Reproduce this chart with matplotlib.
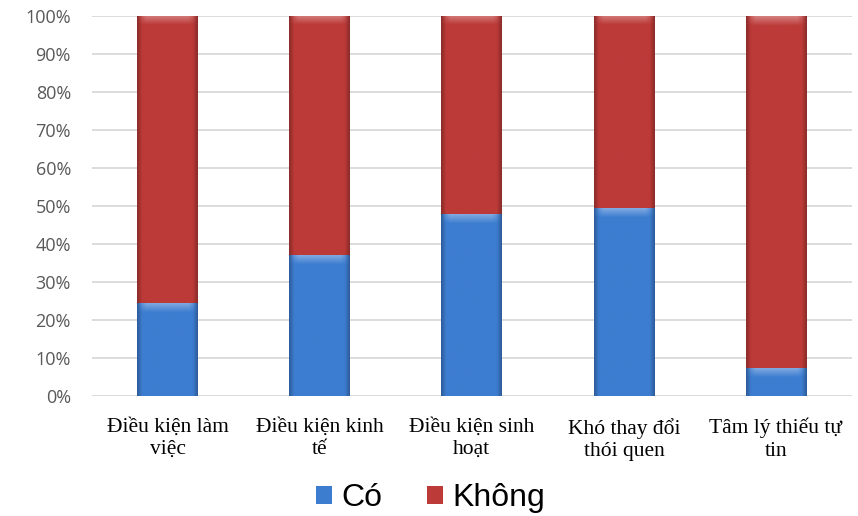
import numpy as np
import matplotlib.pyplot as plt
from matplotlib.colors import to_rgb
from matplotlib.ticker import PercentFormatter

categories = ["Điều kiện làm\nviệc", "Điều kiện kinh\ntế", "Điều kiện sinh\nhoạt",
              "Khó thay đổi\nthói quen", "Tâm lý thiếu tự\ntin"]
co = [24.3, 37.0, 47.8, 49.3, 7.3]
khong = [100 - v for v in co]

blue = "#3d7dd0"
red = "#bc3a38"


def bevel(ax, patch, color):
    # shaded fill: darker edges, light band along the top
    x0, y0 = patch.get_x(), patch.get_y()
    w, h = patch.get_width(), patch.get_height()
    if h <= 0:
        return
    nx, ny = 60, 300
    xs = np.linspace(0, 1, nx)
    side = np.minimum(xs, 1 - xs)
    shade = np.clip(side / 0.08, 0, 1) * 0.25 + 0.75
    hpx = h * 3.795
    yy = np.linspace(1, 0, ny) * hpx  # pixels below the top edge
    light = np.where(yy < 9, (1 - yy / 9) * 0.35, 0)
    base = np.array(to_rgb(color))
    img = np.empty((ny, nx, 3))
    for i in range(ny):
        row = base[None, :] * shade[:, None]
        row = row + (1 - row) * light[i] * np.clip(side / 0.15, 0, 1)[:, None]
        img[i] = row
    im = ax.imshow(img, extent=(x0, x0 + w, y0, y0 + h), origin="lower",
                   aspect="auto", zorder=3, interpolation="bilinear")
    im.set_clip_path(patch)


fig = plt.figure(figsize=(8.58, 5.16), dpi=100)
ax = fig.add_axes([0.107, 0.2335, 0.886, 0.7355])

x = np.arange(len(categories))
b1 = ax.bar(x, co, width=0.4, color=blue, label="Có", zorder=2)
b2 = ax.bar(x, khong, bottom=co, width=0.4, color=red, label="Không", zorder=2)
for p in b1:
    bevel(ax, p, blue)
for p in b2:
    bevel(ax, p, red)

ax.set_xlim(-0.5, len(categories) - 0.5)
ax.set_ylim(0, 100)
ax.set_yticks(np.arange(0, 101, 10))
ax.yaxis.set_major_formatter(PercentFormatter(decimals=0))
ax.grid(axis="y", color="#d9d9d9", linewidth=1.3, zorder=0)
ax.set_axisbelow(True)
for s in ax.spines.values():
    s.set_visible(False)
ax.tick_params(axis="y", length=0, pad=15, labelsize=13, labelcolor="#595959")
ax.tick_params(axis="x", length=0, pad=16)
ax.set_xticks(x)
ax.set_xticklabels(categories, family="Liberation Serif", fontsize=15.5,
                   linespacing=1.25)
for t in ax.get_yticklabels():
    t.set_family("Open Sans")

leg = fig.legend(handles=[b1, b2], labels=["Có", "Không"], loc="lower center",
                 bbox_to_anchor=(0.502, -0.05), ncol=2, frameon=False,
                 prop={"family": "Liberation Sans", "size": 23},
                 handlelength=0.5, handleheight=0.5, handletextpad=0.3,
                 columnspacing=1.4)

fig.savefig("out.png", dpi=100)
